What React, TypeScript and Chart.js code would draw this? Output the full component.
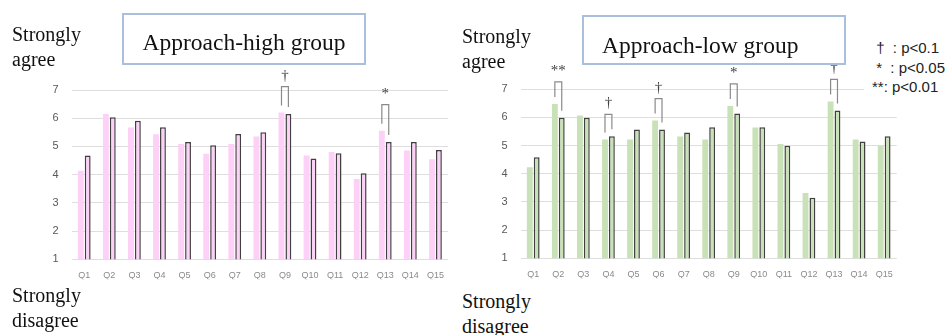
import React, { useEffect, useRef } from 'react';
import { Chart, registerables } from 'chart.js';

Chart.register(...registerables);

// Questionnaire items on the x axis
const questions = ['Q1', 'Q2', 'Q3', 'Q4', 'Q5', 'Q6', 'Q7', 'Q8', 'Q9', 'Q10', 'Q11', 'Q12', 'Q13', 'Q14', 'Q15'];

// Mean ratings (1 = strongly disagree, 7 = strongly agree)
const highBefore = [4.14, 6.15, 5.67, 5.43, 5.09, 4.74, 5.09, 5.35, 6.2, 4.68, 4.8, 3.85, 5.56, 4.86, 4.55];
const highAfter = [4.68, 6.03, 5.91, 5.68, 5.16, 5.04, 5.44, 5.5, 6.15, 4.57, 4.76, 4.05, 5.16, 5.16, 4.87];
const lowBefore = [4.23, 6.48, 6.07, 5.22, 5.22, 5.89, 5.32, 5.22, 6.41, 5.64, 5.06, 3.32, 6.57, 5.22, 5.0];
const lowAfter = [4.59, 5.99, 5.99, 5.33, 5.57, 5.57, 5.47, 5.65, 6.14, 5.65, 5.0, 3.15, 6.25, 5.15, 5.33];

// Significance marks per item ('' = not significant)
const highSig = ['', '', '', '', '', '', '', '', '†', '', '', '', '*', '', ''];
const lowSig = ['', '**', '', '†', '', '†', '', '', '*', '', '', '', '†', '', ''];

// Y axis range
const scaleMin = 1;
const scaleMax = 7;

const SERIF = '"Liberation Serif", "Times New Roman", serif';
const SANS = '"Liberation Sans", Arial, sans-serif';

function sigPlugin(marks: string[], gap: number) {
  return {
    id: 'sigBrackets',
    afterDatasetsDraw(chart: any) {
      const ctx = chart.ctx;
      const a = chart.getDatasetMeta(0).data;
      const b = chart.getDatasetMeta(1).data;
      ctx.save();
      marks.forEach((m, i) => {
        if (!m) return;
        const x0 = a[i].x;
        const x1 = b[i].x;
        const y0 = a[i].y;
        const y1 = b[i].y;
        const top = Math.min(y0, y1) - gap;
        ctx.strokeStyle = '#8a8a8a';
        ctx.lineWidth = 1.2;
        ctx.beginPath();
        ctx.moveTo(x0, y0 - 7);
        ctx.lineTo(x0, top);
        ctx.lineTo(x1, top);
        ctx.lineTo(x1, y1 - 7);
        ctx.stroke();
        ctx.fillStyle = '#404040';
        ctx.font = `15px ${SERIF}`;
        ctx.textAlign = 'center';
        ctx.textBaseline = 'middle';
        ctx.fillText(m, (x0 + x1) / 2, top - 11);
      });
      ctx.restore();
    },
  };
}

type PanelProps = {
  left: number;
  top: number;
  width: number;
  height: number;
  before: number[];
  after: number[];
  marks: string[];
  fill: string;
  gap: number;
  padTop: number;
  padRight: number;
  padBottom: number;
  axisWidth: number;
};

function Panel(p: PanelProps) {
  const ref = useRef<HTMLCanvasElement | null>(null);
  useEffect(() => {
    if (!ref.current) return;
    const chart = new Chart(ref.current, {
      type: 'bar',
      data: {
        labels: questions,
        datasets: [
          {
            data: p.before,
            backgroundColor: p.fill,
            borderWidth: 0,
            categoryPercentage: 0.55,
            barPercentage: 0.85,
          },
          {
            data: p.after,
            backgroundColor: p.fill,
            borderColor: '#404040',
            borderWidth: 1.5,
            categoryPercentage: 0.55,
            barPercentage: 0.85,
          },
        ],
      },
      options: {
        responsive: false,
        animation: false,
        layout: { padding: { left: 0, top: p.padTop, right: p.padRight, bottom: p.padBottom } },
        plugins: { legend: { display: false }, tooltip: { enabled: false } },
        scales: {
          x: {
            grid: { display: false },
            border: { display: false },
            ticks: { color: '#8a8a8a', font: { size: 9, family: SANS }, padding: 3, maxRotation: 0, autoSkip: false },
            afterFit: (s: any) => {
              s.height = 20;
            },
          },
          y: {
            min: scaleMin,
            max: scaleMax,
            grid: { color: '#dedede', lineWidth: 1, drawTicks: false },
            border: { display: false },
            ticks: { stepSize: 1, color: '#595959', font: { size: 11, family: SANS }, padding: 13 },
            afterFit: (s: any) => {
              s.width = p.axisWidth;
            },
          },
        },
      },
      plugins: [sigPlugin(p.marks, p.gap)],
    });
    return () => chart.destroy();
  }, []);
  return (
    <canvas
      ref={ref}
      width={p.width}
      height={p.height}
      style={{ position: 'absolute', left: p.left, top: p.top, width: p.width, height: p.height }}
    />
  );
}

const sideText: React.CSSProperties = {
  position: 'absolute',
  fontFamily: SERIF,
  fontSize: 20,
  lineHeight: '25px',
  color: '#111',
  whiteSpace: 'nowrap',
};

function TitleBox(props: { left: number; top: number; width: number; height: number; text: string; textLeft?: number; baseline: number }) {
  return (
    <div
      style={{
        position: 'absolute',
        left: props.left,
        top: props.top,
        width: props.width,
        height: props.height,
        boxSizing: 'border-box',
        border: '2px solid #aabfdb',
        background: '#fff',
      }}
    >
      <span
        style={{
          position: 'absolute',
          left: props.textLeft === undefined ? 0 : props.textLeft,
          right: props.textLeft === undefined ? 0 : undefined,
          textAlign: props.textLeft === undefined ? 'center' : 'left',
          top: props.baseline - props.top - 2 - 20.9,
          fontFamily: SERIF,
          fontSize: 23.5,
          lineHeight: '26px',
          color: '#111',
          whiteSpace: 'nowrap',
        }}
      >
        {props.text}
      </span>
    </div>
  );
}

export default function App() {
  return (
    <div style={{ position: 'absolute', left: 0, top: 0, width: 948, height: 335, background: '#fff', overflow: 'hidden' }}>
      <Panel
        left={40}
        top={60}
        width={420}
        height={225}
        before={highBefore}
        after={highAfter}
        marks={highSig}
        fill="#fcd0f7"
        gap={26}
        padTop={30}
        padRight={12}
        padBottom={5.7}
        axisWidth={31.7}
      />
      <Panel
        left={490}
        top={60}
        width={420}
        height={225}
        before={lowBefore}
        after={lowAfter}
        marks={lowSig}
        fill="#c8e1b6"
        gap={22}
        padTop={29.3}
        padRight={13.3}
        padBottom={6.7}
        axisWidth={30.7}
      />

      <div style={{ ...sideText, left: 12, top: 22 }}>Strongly<br />agree</div>
      <div style={{ ...sideText, left: 12, top: 282.5 }}>Strongly<br />disagree</div>
      <div style={{ ...sideText, left: 462, top: 24.3 }}>Strongly<br />agree</div>
      <div style={{ ...sideText, left: 462, top: 289 }}>Strongly<br />disagree</div>

      <TitleBox left={122} top={13} width={244} height={52} text="Approach-high group" baseline={50} />
      <TitleBox left={582} top={15} width={264} height={50} text="Approach-low group" textLeft={18} baseline={53.3} />

      <div
        style={{
          position: 'absolute',
          left: 864,
          top: 38.4,
          width: 84,
          paddingLeft: 8,
          boxSizing: 'border-box',
          background: '#fff',
          fontFamily: SANS,
          fontSize: 15,
          lineHeight: '19.3px',
          color: '#222',
          whiteSpace: 'pre',
        }}
      >
        {' †  : p<0.1\n *  : p<0.05\n**: p<0.01'}
      </div>
    </div>
  );
}
